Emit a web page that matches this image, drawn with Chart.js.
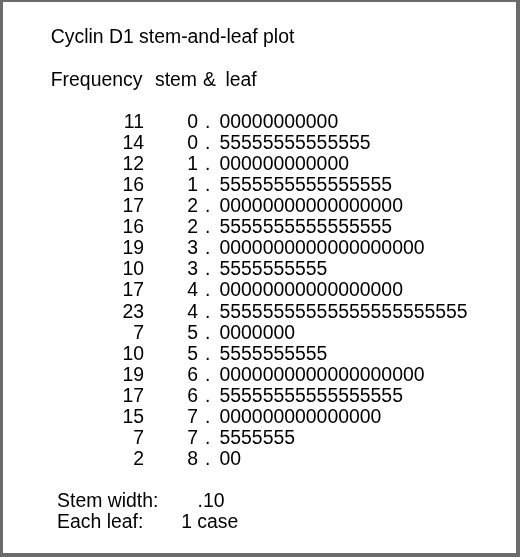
<!DOCTYPE html>
<html>
<head>
<meta charset="utf-8">
<script src="https://cdn.jsdelivr.net/npm/chart.js@4.4.1/dist/chart.umd.min.js"></script>
<style>
  html, body { margin: 0; padding: 0; background: #fff; }
  #frame {
    width: 520px; height: 557px; box-sizing: border-box;
    border-style: solid; border-color: #6b6b6b;
    border-width: 2px 4px 4px 3px; background: #fff;
  }
  canvas { display: block; }
</style>
</head>
<body>
<div id="frame"><canvas id="plot" width="513" height="551"></canvas></div>
<script>
// stem-and-leaf data
const frequencies = [11, 14, 12, 16, 17, 16, 19, 10, 17, 23, 7, 10, 19, 17, 15, 7, 2];
const stems       = [0, 0, 1, 1, 2, 2, 3, 3, 4, 4, 5, 5, 6, 6, 7, 7, 8];
const leafDigits  = [0, 5, 0, 5, 0, 5, 0, 5, 0, 5, 0, 5, 0, 5, 0, 5, 0];

const titleText    = 'Cyclin D1 stem-and-leaf plot';
const headerLabels = ['Frequency', 'stem', '&', 'leaf'];
const footerLabels = ['Stem width:', 'Each leaf:'];
const footerValues = ['.10', '1 case'];

// layout (columns are in digit widths, rows in line heights)
const FONT_SIZE = 19.4;
const FONT = FONT_SIZE + 'px "Liberation Sans", Arial, sans-serif';
const BASELINE_SHIFT = 0.358 * FONT_SIZE;

const FREQ_COL = -7;
const STEM_COL = -2;
const DOT_COL = -1.34;
const HEADER_COLS = [-15.64, -5.98, -1.53, 0.55];
const FOOTER_LABEL_COL = -15.05;
const FOOTER_VALUE_COLS = [-2.04, -3.55];
const TITLE_ROW = -4;
const HEADER_ROW = -2;
const FOOTER_ROWS = [18, 19];

function textSet(points, align) {
  return {
    data: points,
    textAlign: align,
    pointRadius: 0,
    pointHoverRadius: 0,
    showLine: false
  };
}

let leafPoints = [];
for (let r = 0; r < frequencies.length; ++r) {
  for (let k = 0; k < frequencies[r]; ++k) {
    leafPoints.push({ x: k, y: r, label: String(leafDigits[r]) });
  }
}

const freqPoints = frequencies.map((f, r) => ({ x: FREQ_COL, y: r, label: String(f) }));
const stemPoints = stems.map((s, r) => ({ x: STEM_COL, y: r, label: String(s) }));
const dotPoints  = stems.map((s, r) => ({ x: DOT_COL, y: r, label: '.' }));

let labelPoints = [{ x: HEADER_COLS[0], y: TITLE_ROW, label: titleText }];
headerLabels.forEach((h, i) => labelPoints.push({ x: HEADER_COLS[i], y: HEADER_ROW, label: h }));
footerLabels.forEach((f, i) => {
  labelPoints.push({ x: FOOTER_LABEL_COL, y: FOOTER_ROWS[i], label: f });
  labelPoints.push({ x: FOOTER_VALUE_COLS[i], y: FOOTER_ROWS[i], label: footerValues[i] });
});

// scale ranges so one column = one digit advance, one row = one line
const canvas = document.getElementById('plot');
const colW = 0.55615 * FONT_SIZE;
const rowH = 21.09;
const leafX0 = 216.5;
const row0Y = 118.8;

const textPlugin = {
  id: 'textMarks',
  afterDatasetsDraw(chart) {
    const ctx = chart.ctx;
    ctx.save();
    ctx.font = FONT;
    ctx.fillStyle = '#000';
    ctx.textBaseline = 'alphabetic';
    chart.data.datasets.forEach((ds, i) => {
      const meta = chart.getDatasetMeta(i);
      ctx.textAlign = ds.textAlign;
      meta.data.forEach((el, j) => {
        ctx.fillText(ds.data[j].label, el.x, el.y + BASELINE_SHIFT);
      });
    });
    ctx.restore();
  }
};

new Chart(canvas, {
  type: 'scatter',
  data: {
    datasets: [
      textSet(leafPoints, 'left'),
      textSet(freqPoints, 'right'),
      textSet(stemPoints, 'right'),
      textSet(dotPoints, 'left'),
      textSet(labelPoints, 'left')
    ]
  },
  options: {
    responsive: false,
    animation: false,
    events: [],
    layout: { padding: 0 },
    plugins: { legend: { display: false }, tooltip: { enabled: false } },
    scales: {
      x: {
        type: 'linear', display: false,
        min: -leafX0 / colW,
        max: (canvas.width - leafX0) / colW
      },
      y: {
        type: 'linear', display: false, reverse: true,
        min: -row0Y / rowH,
        max: (canvas.height - row0Y) / rowH
      }
    }
  },
  plugins: [textPlugin]
});
</script>
</body>
</html>
